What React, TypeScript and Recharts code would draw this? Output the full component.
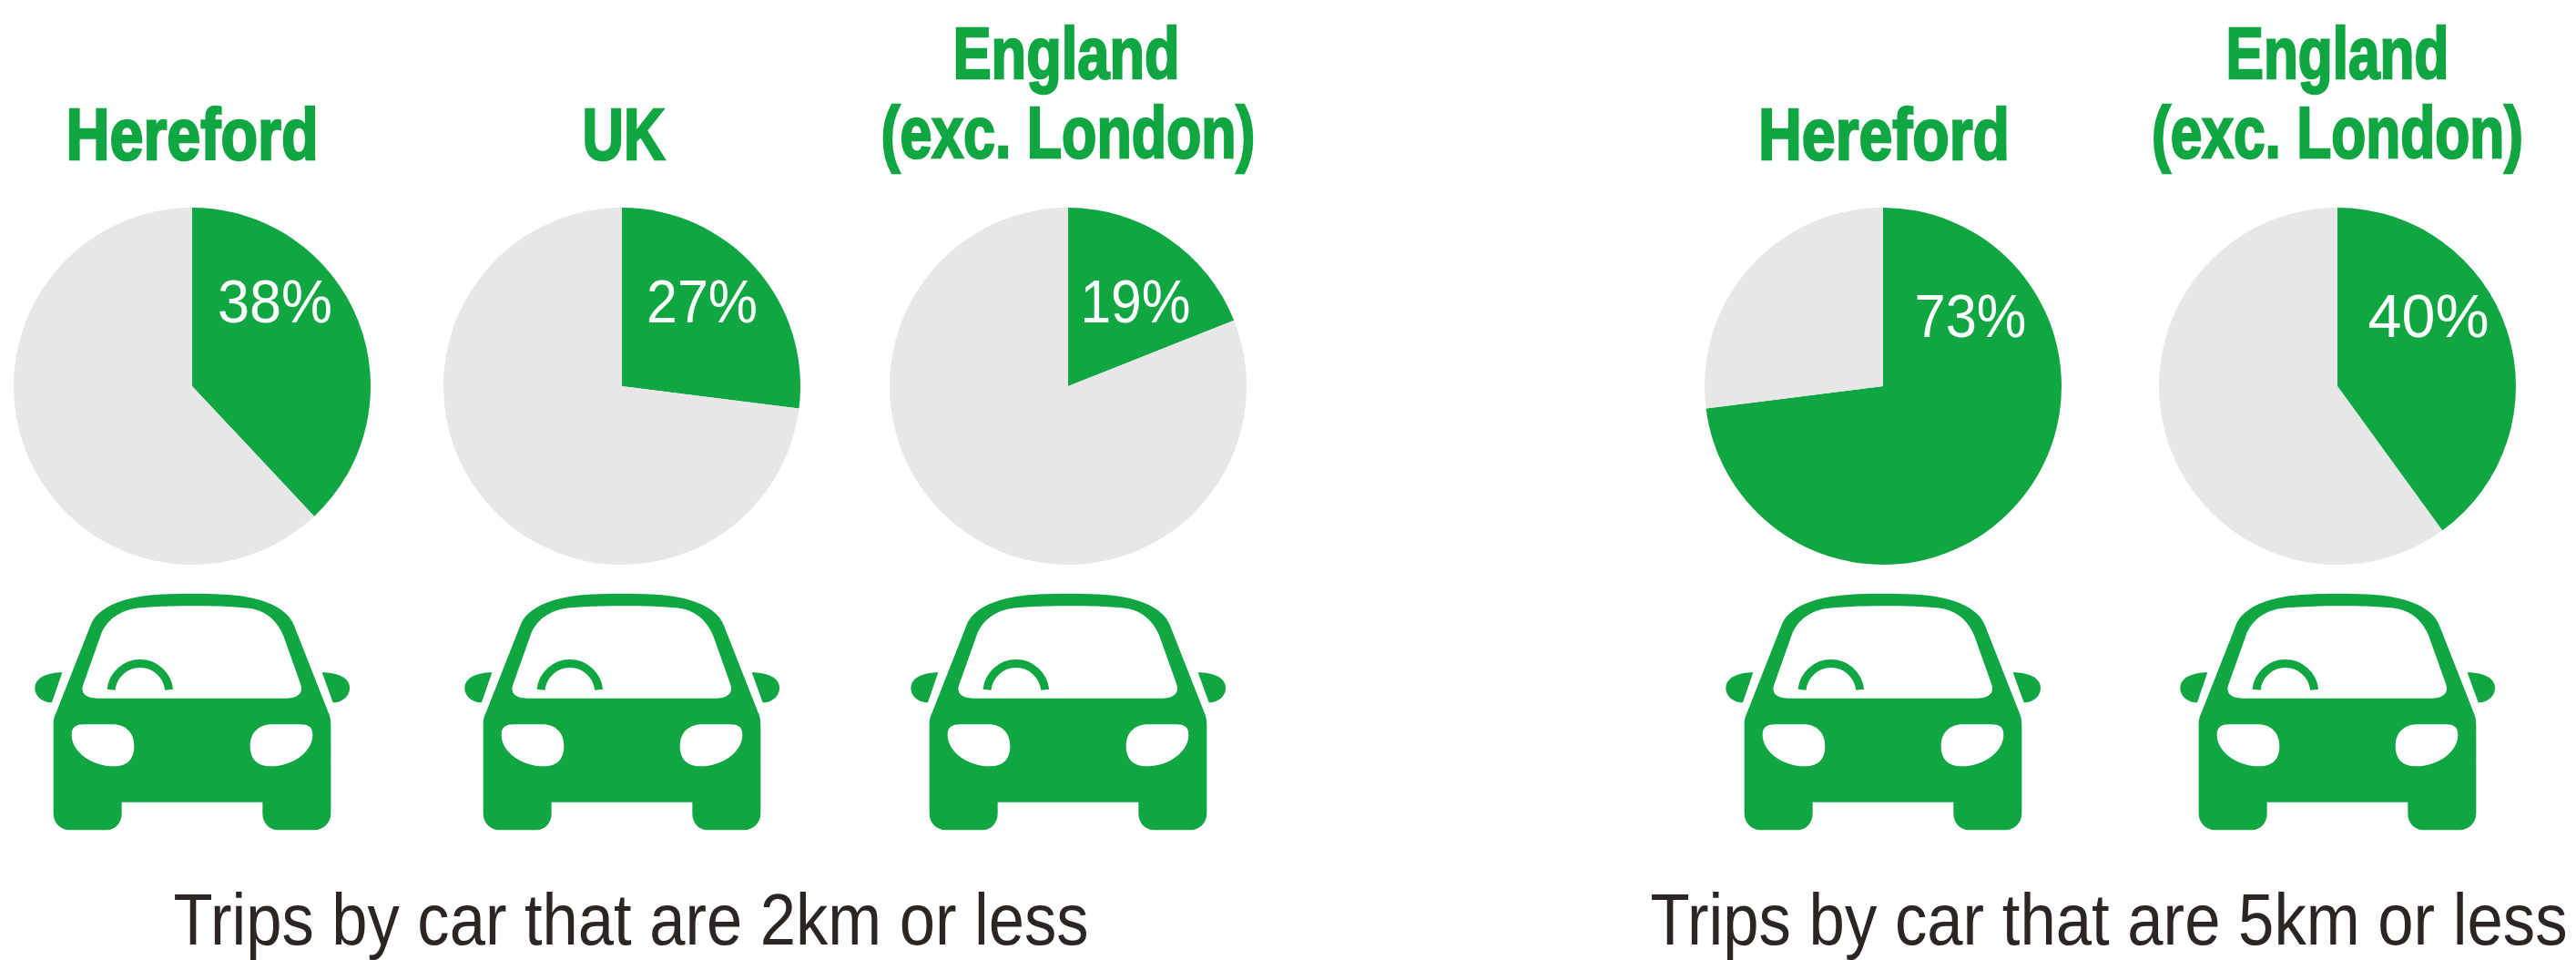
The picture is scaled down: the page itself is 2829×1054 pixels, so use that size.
import { Pie, PieChart } from "recharts";

const GREEN = "#10a642";
const GREY = "#e7e7e7";
const DARK = "#2b2523";
const HEAD_FONT = "'Liberation Sans Narrow', 'Liberation Sans', sans-serif";

// share of car trips
const places = ["Hereford", "UK", "England (exc. London)", "Hereford", "England (exc. London)"];
const shortTrips = [38, 27, 19, 73, 40];

const captions = ["Trips by car that are 2km or less", "Trips by car that are 5km or less"];

// where each pie sits on the page
const centreX = [211, 683, 1173, 2068, 2567];
const labelX = [302, 771, 1247, 2164, 2667];
const labelWidth = [126, 122, 121, 123, 133];
const labelBaseline = [354, 354, 354, 370, 370];
const CENTRE_Y = 424;
const RADIUS = 196;

function Car({ cx }: { cx: number }) {
  return (
    <g transform={`translate(${cx - 632 / 3} 620) scale(${1 / 3})`}>
      <path
        fill={GREEN}
        fillRule="evenodd"
        d="M175 530 C175 512 177 503 183 490 L297 200 C320 140 400 115 460 105 C530 92 735 92 805 105 C865 115 945 140 968 200 L1082 490 C1087 503 1089 512 1089 530 V820 C1089 850 1065 874 1035 874 H915 C885 874 864 850 864 820 V782 H400 V820 C400 850 380 874 350 874 H228 C198 874 175 850 175 820 Z
        M330 235 C345 190 385 155 440 145 C500 133 770 133 830 145 C880 155 915 190 933 235 L990 395 C1000 425 975 440 945 440 H320 C285 440 262 425 273 395 Z
        M235 560 C235 535 250 526 275 526 H370 C415 526 441 555 441 598 C441 640 420 664 375 664 C300 664 235 615 235 560 Z
        M1029 560 C1029 535 1015 526 990 526 H895 C850 526 823 555 823 598 C823 640 845 664 890 664 C965 664 1029 615 1029 560 Z"
      />
      <path fill={GREEN} d="M204 355 L170 454 C140 454 114 435 114 406 C114 370 160 355 204 355 Z" />
      <path fill={GREEN} d="M1060 355 L1096 454 C1125 454 1151 435 1151 406 C1151 370 1105 355 1060 355 Z" />
      <path fill="none" stroke={GREEN} strokeWidth={27} d="M365 412 A96 96 0 0 1 556 412" />
    </g>
  );
}

function Head({ x, y, width, children }: { x: number; y: number; width: number; children: string }) {
  return (
    <text
      x={x}
      y={y}
      textAnchor="middle"
      fill={GREEN}
      stroke={GREEN}
      strokeWidth={2.5}
      fontFamily={HEAD_FONT}
      fontWeight={700}
      fontSize={80}
      textLength={width}
      lengthAdjust="spacingAndGlyphs"
    >
      {children}
    </text>
  );
}

export default function App() {
  return (
    <div style={{ position: "absolute", left: 0, top: 0 }}>
      <PieChart width={2829} height={1054} margin={{ top: 0, right: 0, bottom: 0, left: 0 }}>
        {shortTrips.map((value, i) => (
          <Pie
            key={i}
            name={places[i]}
            data={[
              { name: "Short trips", value, fill: GREEN },
              { name: "Other trips", value: 100 - value, fill: GREY },
            ]}
            dataKey="value"
            cx={centreX[i]}
            cy={CENTRE_Y}
            innerRadius={0}
            outerRadius={RADIUS}
            startAngle={90}
            endAngle={-270}
            stroke="none"
            isAnimationActive={false}
            labelLine={false}
            label={(p: any) =>
              p.index === 0 ? (
                <text
                  x={labelX[i]}
                  y={labelBaseline[i]}
                  textAnchor="middle"
                  fill="#fff"
                  fontFamily={HEAD_FONT}
                  fontSize={66}
                  textLength={labelWidth[i]}
                  lengthAdjust="spacingAndGlyphs"
                >
                  {`${p.value}%`}
                </text>
              ) : null
            }
          />
        ))}
        {centreX.map((cx, i) => (
          <Car key={i} cx={cx} />
        ))}
        <Head x={211} y={175} width={277}>Hereford</Head>
        <Head x={685} y={175} width={91}>UK</Head>
        <Head x={1171} y={86} width={249}>England</Head>
        <Head x={1173} y={173} width={411}>(exc. London)</Head>
        <Head x={2069} y={175} width={276}>Hereford</Head>
        <Head x={2567} y={86} width={245}>England</Head>
        <Head x={2567} y={173} width={408}>(exc. London)</Head>
        <text x={693} y={1037} textAnchor="middle" fill={DARK} fontFamily={HEAD_FONT} fontSize={80} textLength={1005} lengthAdjust="spacingAndGlyphs">
          {captions[0]}
        </text>
        <text x={2316} y={1037} textAnchor="middle" fill={DARK} fontFamily={HEAD_FONT} fontSize={80} textLength={1007} lengthAdjust="spacingAndGlyphs">
          {captions[1]}
        </text>
      </PieChart>
    </div>
  );
}
